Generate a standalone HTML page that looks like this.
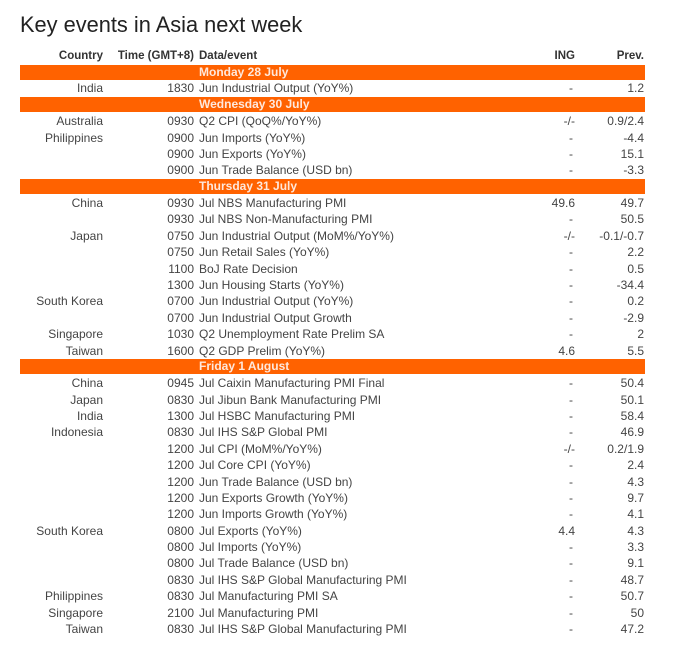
<!DOCTYPE html>
<html><head><meta charset="utf-8"><style>
body{margin:0;width:696px;height:661px;background:#fff;position:relative;overflow:hidden;font-family:"Liberation Sans",sans-serif}
.t{position:absolute;left:20px;top:12px;font-size:21.8px;color:#222}
.r{position:absolute;left:20px;width:625px;height:16px;font-size:12px;color:#444;line-height:16px}
.r span{position:absolute;top:0;white-space:nowrap}
.c{right:542px;text-align:right}
.tm{right:451px}
.e{left:179px}
.i{right:70px}
.p{right:1px}
.b{background:#ff6200;height:15px;line-height:15px;color:#ffe8dc;font-weight:bold}
.h{font-weight:bold;color:#333;font-size:11.5px}
</style></head><body>
<div class="t">Key events in Asia next week</div>
<div class="r h" style="top:48px"><span class="c">Country</span><span class="tm">Time (GMT+8)</span><span class="e">Data/event</span><span class="i">ING</span><span class="p">Prev.</span></div>
<div id="rows"></div>
<script>
var d=[
["B","Monday 28 July"],
["India","1830","Jun Industrial Output (YoY%)","-","1.2"],
["B","Wednesday 30 July"],
["Australia","0930","Q2 CPI (QoQ%/YoY%)","-/-","0.9/2.4"],
["Philippines","0900","Jun Imports (YoY%)","-","-4.4"],
["","0900","Jun Exports (YoY%)","-","15.1"],
["","0900","Jun Trade Balance (USD bn)","-","-3.3"],
["B","Thursday 31 July"],
["China","0930","Jul NBS Manufacturing PMI","49.6","49.7"],
["","0930","Jul NBS Non-Manufacturing PMI","-","50.5"],
["Japan","0750","Jun Industrial Output (MoM%/YoY%)","-/-","-0.1/-0.7"],
["","0750","Jun Retail Sales (YoY%)","-","2.2"],
["","1100","BoJ Rate Decision","-","0.5"],
["","1300","Jun Housing Starts (YoY%)","-","-34.4"],
["South Korea","0700","Jun Industrial Output (YoY%)","-","0.2"],
["","0700","Jun Industrial Output Growth","-","-2.9"],
["Singapore","1030","Q2 Unemployment Rate Prelim SA","-","2"],
["Taiwan","1600","Q2 GDP Prelim (YoY%)","4.6","5.5"],
["B","Friday 1 August"],
["China","0945","Jul Caixin Manufacturing PMI Final","-","50.4"],
["Japan","0830","Jul Jibun Bank Manufacturing PMI","-","50.1"],
["India","1300","Jul HSBC Manufacturing PMI","-","58.4"],
["Indonesia","0830","Jul IHS S&amp;P Global PMI","-","46.9"],
["","1200","Jul CPI (MoM%/YoY%)","-/-","0.2/1.9"],
["","1200","Jul Core CPI (YoY%)","-","2.4"],
["","1200","Jun Trade Balance (USD bn)","-","4.3"],
["","1200","Jun Exports Growth (YoY%)","-","9.7"],
["","1200","Jun Imports Growth (YoY%)","-","4.1"],
["South Korea","0800","Jul Exports (YoY%)","4.4","4.3"],
["","0800","Jul Imports (YoY%)","-","3.3"],
["","0800","Jul Trade Balance (USD bn)","-","9.1"],
["","0830","Jul IHS S&amp;P Global Manufacturing PMI","-","48.7"],
["Philippines","0830","Jul Manufacturing PMI SA","-","50.7"],
["Singapore","2100","Jul Manufacturing PMI","-","50"],
["Taiwan","0830","Jul IHS S&amp;P Global Manufacturing PMI","-","47.2"]];
var h="";
d.forEach(function(r,i){var y=72+i*16.38;
if(r[0]=="B"){h+='<div class="r b" style="top:'+(y-7.5).toFixed(1)+'px"><span class="e">'+r[1]+'</span></div>';}
else{h+='<div class="r" style="top:'+(y-8).toFixed(1)+'px"><span class="c">'+r[0]+'</span><span class="tm">'+r[1]+'</span><span class="e">'+r[2]+'</span><span class="i"'+(r[3].length<3?' style="right:72px"':'')+'>'+r[3]+'</span><span class="p">'+r[4]+'</span></div>';}
});
document.getElementById("rows").innerHTML=h;
</script>
</body></html>
